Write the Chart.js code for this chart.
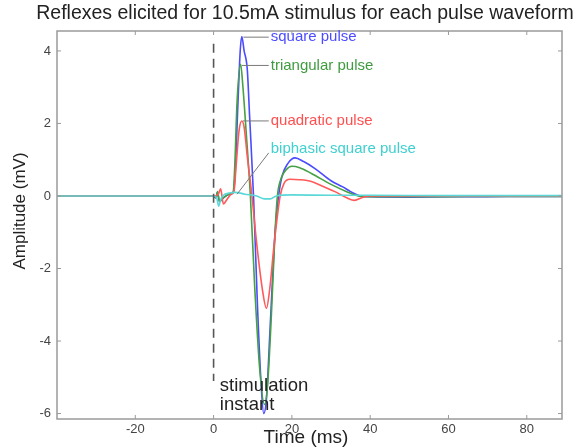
<!DOCTYPE html>
<html>
<head>
<meta charset="utf-8">
<script src="https://cdn.jsdelivr.net/npm/chart.js@4.4.1/dist/chart.umd.min.js"></script>
<style>
  html, body { margin: 0; padding: 0; background: #fff; }
  #wrap { width: 581px; height: 448px; }
</style>
</head>
<body>
<div id="wrap"><canvas id="chart" width="581" height="448"></canvas></div>
<script>
// time (ms) / amplitude (mV)
const squareT = [-40, -20, -5, 0, 0.6, 1.0, 1.5, 2.5, 4, 5, 5.5, 6.2, 6.8, 7.2, 7.8, 8.6, 9.2, 10.2, 11.2, 12.2, 12.8, 13.5, 14.5, 15.7, 16.6, 17.5, 19, 20.8, 23, 26, 30, 33, 35, 37.5, 40, 50, 60, 70, 80, 89];
const squareV = [0, 0, 0, 0, -0.05, 0.1, -0.15, -0.05, 0.05, 0.1, 0.6, 2.5, 4.0, 4.4, 4.0, 3.5, 2.2, 0, -3.0, -5.3, -6.0, -5.6, -3.5, -1.0, 0, 0.55, 0.9, 1.05, 0.95, 0.75, 0.42, 0.25, 0.12, 0, -0.02, -0.03, -0.02, -0.02, -0.01, -0.01];

const triT = [-40, -20, -5, 0, 0.6, 1.0, 1.5, 2.5, 4, 5, 5.4, 6.0, 6.9, 7.5, 8.3, 9.4, 10.5, 11.8, 13.0, 13.8, 14.8, 15.7, 16.3, 17.3, 18.5, 20, 22, 25, 30, 34, 37, 40, 50, 60, 70, 80, 89];
const triV = [0, 0, 0, 0, -0.05, 0.12, -0.15, -0.05, 0.05, 0.1, 0.8, 2.6, 3.63, 3.0, 1.8, 0, -2.5, -4.8, -5.75, -5.2, -3.2, -1.0, 0, 0.5, 0.72, 0.82, 0.78, 0.62, 0.32, 0.12, 0, -0.02, -0.02, -0.02, -0.01, -0.01, -0.01];

const quadT = [-40, -20, -5, 0, 1.2, 1.8, 2.5, 3.5, 4.5, 5.2, 5.8, 6.5, 7.2, 7.8, 8.6, 9.8, 11, 12.5, 13.5, 14.3, 15.5, 17, 18, 19.5, 22, 25, 28, 31, 34, 36, 38, 40, 50, 60, 70, 80, 89];
const quadV = [0, 0, 0, 0, 0.05, 0.2, -0.22, -0.08, 0.05, 0.12, 0.9, 1.8, 2.07, 1.9, 1.1, 0, -1.3, -2.6, -3.1, -2.6, -1.3, 0, 0.35, 0.46, 0.45, 0.4, 0.26, 0.12, -0.05, -0.12, -0.04, 0, 0, 0, 0, 0, 0];

const biT = [-40, -20, -5, 0, 0.8, 1.3, 1.8, 2.5, 4, 5.5, 8, 11, 13, 14.5, 16, 20, 30, 40, 60, 89];
const biV = [0, 0, 0, 0, -0.05, -0.28, -0.1, 0.02, 0.08, 0.1, 0.05, 0, -0.08, -0.08, 0, 0.03, 0.02, 0.02, 0.01, 0.01];

// stimulation marker
const stimT = [0, 0];
const stimV = [4.2, -5.1];

const xTicks = [-20, 0, 20, 40, 60, 80];
const yTicks = [-6, -4, -2, 0, 2, 4];

// labels: [text, colour, label x (ms), label y (mV), leader start x, leader start y]
const labels = [
  ["square pulse", "#4b4bff", 14.6, 4.38, 7.6, 4.38],
  ["triangular pulse", "#3f9b3f", 14.6, 3.6, 7.2, 3.6],
  ["quadratic pulse", "#ff4f4f", 14.6, 2.07, 7.5, 2.07],
  ["biphasic square pulse", "#40d0d0", 14.6, 1.3, 6.0, 0.05]
];

const FONT = "'Liberation Sans', Arial, sans-serif";

function pts(t, v) { return t.map((x, i) => ({ x, y: v[i] })); }

function line(data, color, extra) {
  return Object.assign({
    data, borderColor: color, borderWidth: 1.6, pointRadius: 0,
    cubicInterpolationMode: "monotone", fill: false
  }, extra || {});
}

const frame = {
  id: "frame",
  afterDraw(chart) {
    const { ctx, chartArea: a, scales: { x, y } } = chart;
    ctx.save();
    // box and inward ticks
    ctx.strokeStyle = "#9a9a9a";
    ctx.lineWidth = 1.5;
    ctx.strokeRect(a.left, a.top, a.right - a.left, a.bottom - a.top);
    ctx.lineWidth = 1;
    xTicks.forEach(v => {
      const px = x.getPixelForValue(v);
      ctx.beginPath();
      ctx.moveTo(px, a.bottom); ctx.lineTo(px, a.bottom - 4);
      ctx.moveTo(px, a.top); ctx.lineTo(px, a.top + 4);
      ctx.stroke();
    });
    yTicks.forEach(v => {
      const py = y.getPixelForValue(v);
      ctx.beginPath();
      ctx.moveTo(a.left, py); ctx.lineTo(a.left + 4, py);
      ctx.moveTo(a.right, py); ctx.lineTo(a.right - 4, py);
      ctx.stroke();
    });

    // series labels with leader lines
    ctx.font = "15px " + FONT;
    ctx.textBaseline = "middle";
    ctx.textAlign = "left";
    labels.forEach(([txt, col, lx, ly, sx, sy]) => {
      const px = x.getPixelForValue(lx), py = y.getPixelForValue(ly);
      ctx.strokeStyle = "#7a7a7a";
      ctx.lineWidth = 1;
      ctx.beginPath();
      ctx.moveTo(x.getPixelForValue(sx), y.getPixelForValue(sy));
      ctx.lineTo(px - 2, py + (sy < ly - 0.5 ? 4 : 0));
      ctx.stroke();
      ctx.fillStyle = col;
      ctx.fillText(txt, px, py);
    });

    // stimulation instant
    ctx.fillStyle = "#222";
    ctx.font = "18.5px " + FONT;
    ctx.fillText("stimulation", x.getPixelForValue(1.6), y.getPixelForValue(-5.24));
    ctx.fillText("instant", x.getPixelForValue(1.6), y.getPixelForValue(-5.75));

    // titles
    ctx.textAlign = "center";
    ctx.font = "19.5px " + FONT;
    ctx.fillText("Reflexes elicited for 10.5mA stimulus for each pulse waveform", 305, 14);
    ctx.font = "19px " + FONT;
    ctx.fillText("Time (ms)", 306, 438);
    ctx.translate(20, 211);
    ctx.rotate(-Math.PI / 2);
    ctx.font = "17px " + FONT;
    ctx.fillText("Amplitude (mV)", 0, 0);
    ctx.restore();
  }
};

new Chart(document.getElementById("chart"), {
  type: "line",
  data: {
    datasets: [
      line(pts(stimT, stimV), "#555", { borderDash: [9, 6], borderWidth: 1.6, cubicInterpolationMode: "default", tension: 0 }),
      line(pts(biT, biV), "#5ad8d8"),
      line(pts(quadT, quadV), "#ff5a5a"),
      line(pts(triT, triV), "#46a046"),
      line(pts(squareT, squareV), "#4b4bff")
    ]
  },
  options: {
    responsive: false,
    animation: false,
    devicePixelRatio: 1,
    layout: { padding: { top: 31, right: 19, left: 0, bottom: 0 } },
    plugins: { legend: { display: false }, title: { display: false }, tooltip: { enabled: false } },
    scales: {
      x: {
        type: "linear", min: -40, max: 89,
        grid: { display: false, drawTicks: false },
        border: { display: false },
        afterBuildTicks: s => { s.ticks = xTicks.map(v => ({ value: v })); },
        afterFit: s => { s.height = 29; },
        ticks: { padding: 3, color: "#444", font: { family: FONT, size: 13 }, maxRotation: 0 }
      },
      y: {
        type: "linear", min: -6.15, max: 4.55,
        grid: { display: false, drawTicks: false },
        border: { display: false },
        afterBuildTicks: s => { s.ticks = yTicks.map(v => ({ value: v })); },
        afterFit: s => { s.width = 57; },
        ticks: { padding: 6, color: "#444", font: { family: FONT, size: 13 } }
      }
    }
  },
  plugins: [frame]
});
</script>
</body>
</html>
